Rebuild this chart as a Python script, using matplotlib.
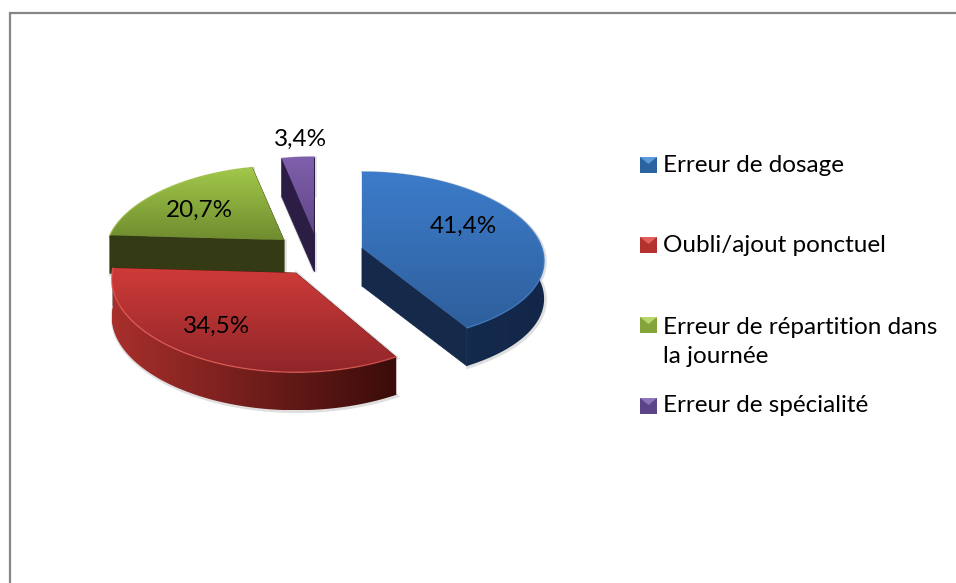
import numpy as np
import matplotlib
matplotlib.use('Agg')
import matplotlib.pyplot as plt
from matplotlib.colors import LinearSegmentedColormap
from matplotlib.patches import Polygon

# Data
categories = ['Erreur de dosage', 'Oubli/ajout ponctuel',
              'Erreur de répartition dans\nla journée', 'Erreur de spécialité']
values = [41.4, 34.5, 20.7, 3.4]

# Style, one entry per slice
top_colors = [('#3c7cca', '#2f5f9c'), ('#cf3b38', '#90262a'),
              ('#a2c84a', '#6f8c2f'), ('#8060ad', '#604687')]
wall_colors = [('#17304f', '#12264a'), ('#a82f2c', '#3a0c0a'),
               ('#333a14', '#333a14'), ('#2c1d45', '#2c1d45')]
face_colors = ['#15294a', '#5a1513', '#333a14', '#2c1d45']
edge_colors = ['#3f7fcc', '#ee5f58', '#a6cc4e', '#8464b0']
key_colors = ['#2a639f', '#b3322f', '#84a33a', '#5c4488']
key_top_colors = ['#5b9bd9', '#e2605a', '#b8d76a', '#8d72bc']

# Layout in pixels of the 956x583 picture
centers = [(362, 248), (296, 273), (284, 240), (314, 233)]
radius_x = [180, 184, 176, 180]
radius_y = [85.3, 89.5, 83, 85.3]
persp_x = [0.155, 0.065, 0.155, 0.155]
label_pos = [(463, 226), (217, 326), (199, 210), (301, 139)]
legend_y = [165, 245, 325, 406]
legend_text_y = [165, 245, 342, 405]
PERSP_Y = 0.109
DEPTH = 38
FONT = 'Lato'
FONT_SIZE = 17.5


def project(i, theta):
    # theta runs clockwise from the top of the pie
    u, v = np.sin(theta), np.cos(theta)
    x = centers[i][0] + radius_x[i] * u * (1 - persp_x[i] * v)
    y = centers[i][1] - radius_y[i] * v * (1 - PERSP_Y * v)
    return np.column_stack([x, y])


def fill_gradient(ax, points, colors, horizontal=False, zorder=2):
    cmap = LinearSegmentedColormap.from_list('g', colors)
    x0, y0 = points.min(axis=0)
    x1, y1 = points.max(axis=0)
    grad = np.linspace(0, 1, 256)
    grad = grad.reshape(1, -1) if horizontal else grad.reshape(-1, 1)
    img = ax.imshow(grad, cmap=cmap, extent=(x0, x1, y1, y0), aspect='auto',
                    zorder=zorder, interpolation='bilinear')
    clip = Polygon(points, closed=True, transform=ax.transData, facecolor='none', edgecolor='none')
    ax.add_patch(clip)
    img.set_clip_path(clip)


fig = plt.figure(figsize=(9.56, 5.83), dpi=100)
ax = fig.add_axes([0, 0, 1, 1])

# Slice angles from the values
edges = np.radians(np.cumsum([0] + values) * 3.6)
# back slices first, the red one sits over the green wall
order = [2, 3, 0, 1]
z = 2
for i in order:
    theta = np.linspace(edges[i], edges[i + 1], 120)
    arc = project(i, theta)
    apex = np.array(centers[i], dtype=float)
    down = np.array([0, DEPTH])

    # soft shadow round the solid
    outline = np.vstack([apex, arc, arc[::-1] + down, apex + down])
    ax.add_patch(Polygon(outline + [1, 1], closed=True, facecolor='none',
                         edgecolor='#808080', alpha=0.25, lw=2.5, zorder=z))
    z += 1

    for end in (arc[0], arc[-1]):
        face = np.array([apex, end, end + down, apex + down])
        ax.add_patch(Polygon(face, closed=True, facecolor=face_colors[i],
                             edgecolor=face_colors[i], lw=0.5, zorder=z))
    z += 1

    wall = np.vstack([arc, arc[::-1] + down])
    fill_gradient(ax, wall, wall_colors[i], horizontal=True, zorder=z)
    z += 1

    top = np.vstack([apex, arc])
    fill_gradient(ax, top, top_colors[i], zorder=z)
    z += 1
    ax.plot(arc[:, 0], arc[:, 1], color=edge_colors[i], lw=1, alpha=0.7,
            solid_capstyle='round', zorder=z)
    z += 1

# Percentage labels
for val, (x, y) in zip(values, label_pos):
    ax.text(x, y, f'{val:.1f}%'.replace('.', ','), ha='center', va='center',
            family=FONT, fontsize=FONT_SIZE, color='black', zorder=50)

# Legend, bevelled keys
for name, ym, yt, col, col_top in zip(categories, legend_y, legend_text_y, key_colors, key_top_colors):
    box = [[640, ym - 8], [657, ym - 8], [657, ym + 8], [640, ym + 8]]
    ax.add_patch(Polygon(box, closed=True, facecolor=col, edgecolor='none', zorder=40))
    ax.add_patch(Polygon([[640, ym - 8], [657, ym - 8], [648.5, ym - 1]], closed=True,
                         facecolor=col_top, edgecolor='none', zorder=41))
    ax.text(663, yt, name, ha='left', va='center', family=FONT, fontsize=FONT_SIZE,
            color='black', linespacing=1.48, zorder=50)

# Chart frame, only left and top are inside the crop
ax.plot([10, 10, 956], [583, 13, 13], color='#868686', lw=1.6, zorder=60, solid_joinstyle='miter')

ax.set_xlim(0, 956)
ax.set_ylim(583, 0)
ax.axis('off')

fig.savefig('out.png', dpi=100)
